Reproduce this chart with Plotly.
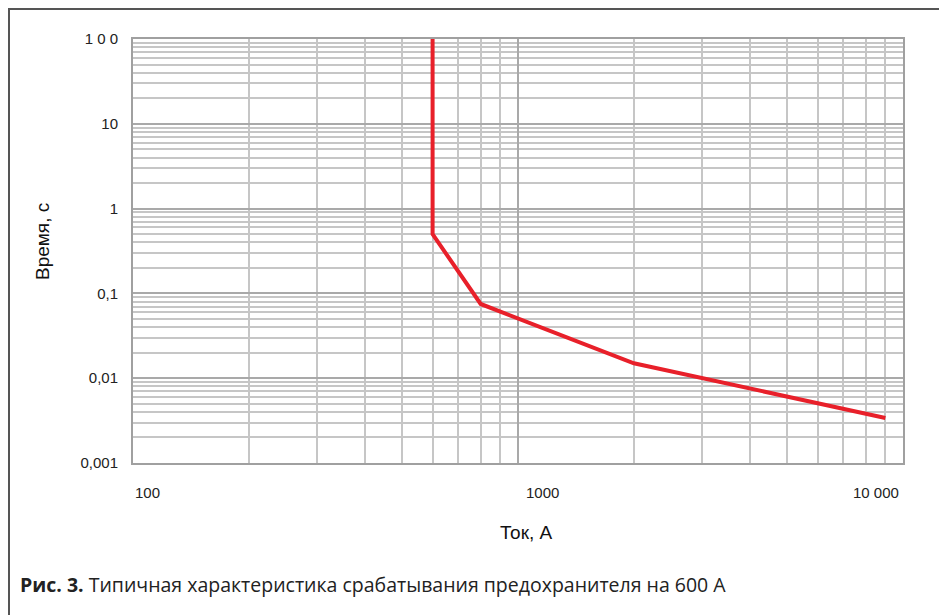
import numpy as np
import plotly.graph_objects as go

# Data: typical trip characteristic of a 600 A fuse
current_a = [600, 600, 800, 2000, 9000]
time_s = [100, 0.5, 0.075, 0.015, 0.0034]

y_tickvals = [0.001, 0.01, 0.1, 1, 10, 100]
y_ticktext = ["0,001", "0,01", "0,1", "1", "10", "1 0 0"]
x_tickvals = [100, 1000, 10000]
x_ticktext = ["100", "1000", "10 000"]
x_tickshift = [14, 24, -27]

x_minor = [m * 10 ** d for d in range(2, 4) for m in range(2, 10)]
y_minor = [m * 10.0 ** d for d in range(-3, 2) for m in range(2, 10)]

# page body has an 8 px margin: figure occupies page pixels 8..947 x 8..615
OFF = 8
W, H = 947 - OFF, 615 - OFF
L, R, T, B = 133 - OFF, 44, 39 - OFF, 152
pw, ph = W - L - R, H - T - B

def px(x):  # page pixel -> paper
    return (x - OFF - L) / pw

def py(y):
    return (H - B - (y - OFF)) / ph

fig = go.Figure()
fig.add_trace(go.Scatter(
    x=current_a, y=time_s, mode="lines",
    line=dict(color="#e8202a", width=4),
    showlegend=False, hoverinfo="skip"))

fig.update_xaxes(
    type="log", range=[2, 4],
    tickvals=x_tickvals, showticklabels=False, ticks="",
    showgrid=True, gridcolor="#a9a9a9", gridwidth=1.5,
    minor=dict(tickvals=x_minor, showgrid=True, gridcolor="#c6c6c6", gridwidth=1.5, ticks=""),
    showline=True, linecolor="#a0a0a0", linewidth=2, mirror=True, zeroline=False)
fig.update_yaxes(
    type="log", range=[-3, 2],
    tickvals=y_tickvals, ticktext=y_ticktext, ticks="",
    tickfont=dict(family="Liberation Sans, Arial", size=15, color="#222"),
    showgrid=True, gridcolor="#a9a9a9", gridwidth=1.5,
    minor=dict(tickvals=y_minor, showgrid=True, gridcolor="#c6c6c6", gridwidth=1.5, ticks=""),
    showline=True, linecolor="#a0a0a0", linewidth=2, mirror=True, zeroline=False,
    ticklabelstandoff=10)

annotations = []
for v, t, s in zip(x_tickvals, x_ticktext, x_tickshift):
    annotations.append(dict(x=np.log10(v), xref="x", y=py(493), yref="paper", yanchor="middle",
                            xshift=s, text=t, showarrow=False,
                            font=dict(family="Liberation Sans, Arial", size=15, color="#222")))
annotations.append(dict(x=px(42), y=py(242), xref="paper", yref="paper", text="Время, с",
                        textangle=-90, showarrow=False, xanchor="center", yanchor="middle",
                        font=dict(family="Liberation Sans, Arial", size=19, color="#111")))
annotations.append(dict(x=px(526), y=py(532), xref="paper", yref="paper", text="Ток, А",
                        showarrow=False, xanchor="center", yanchor="middle",
                        font=dict(family="Liberation Sans, Arial", size=19, color="#111")))
annotations.append(dict(x=px(18), y=py(584), xref="paper", yref="paper", xanchor="left",
                        yanchor="middle",
                        text="<b>Рис. 3.</b> Типичная характеристика срабатывания предохранителя на 600 А",
                        showarrow=False,
                        font=dict(family="Open Sans", size=19.5, color="#222")))

shapes = [
    dict(type="line", xref="paper", yref="paper", x0=px(8), x1=px(947), y0=py(9), y1=py(9),
         line=dict(color="#555", width=2)),
    dict(type="line", xref="paper", yref="paper", x0=px(9), x1=px(9), y0=py(8), y1=py(615),
         line=dict(color="#555", width=2)),
]

fig.update_layout(
    width=W, height=H,
    margin=dict(l=L, r=R, t=T, b=B),
    paper_bgcolor="white", plot_bgcolor="white",
    annotations=annotations, shapes=shapes)

fig.write_html("out.html")
